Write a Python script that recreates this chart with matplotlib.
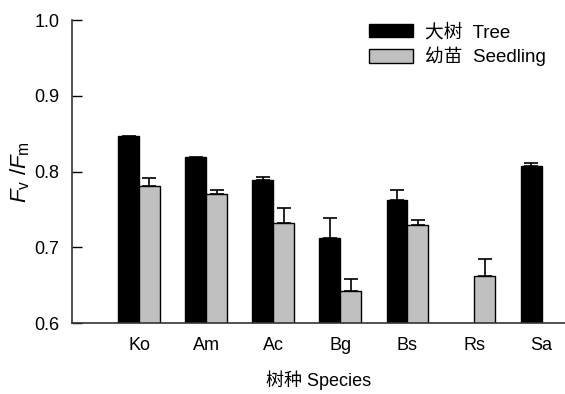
import numpy as np
import matplotlib
matplotlib.use('Agg')
import matplotlib.pyplot as plt

plt.rcParams['font.family'] = ['Liberation Sans', 'Noto Sans CJK SC']
plt.rcParams['mathtext.fontset'] = 'custom'
plt.rcParams['mathtext.rm'] = 'Liberation Sans'
plt.rcParams['mathtext.it'] = 'Liberation Sans:italic'

# Data
species = ['Ko', 'Am', 'Ac', 'Bg', 'Bs', 'Rs', 'Sa']
tree = [0.847, 0.819, 0.789, 0.712, 0.762, np.nan, 0.808]
tree_err = [np.nan, np.nan, 0.004, 0.027, 0.014, np.nan, 0.003]
seedling = [0.781, 0.770, 0.732, 0.642, 0.729, 0.662, np.nan]
seedling_err = [0.011, 0.006, 0.020, 0.016, 0.007, 0.022, np.nan]

x = np.arange(len(species))
w = 0.31

fig = plt.figure(figsize=(5.65, 3.94), dpi=100)
ax = fig.add_axes([0.1274, 0.18, 0.8726, 0.769])

ax.bar(x - w / 2, tree, w, color='black', edgecolor='black', linewidth=1,
       label='大树  Tree')
ax.bar(x + w / 2, seedling, w, color='#c0c0c0', edgecolor='black', linewidth=1,
       label='幼苗  Seedling')

# one-sided (upper) error bars
ax.errorbar(x - w / 2, tree, yerr=[np.zeros(len(x)), tree_err], fmt='none',
            ecolor='black', elinewidth=1.2, capsize=5, capthick=1.2)
ax.errorbar(x + w / 2, seedling, yerr=[np.zeros(len(x)), seedling_err], fmt='none',
            ecolor='black', elinewidth=1.2, capsize=5, capthick=1.2)

ax.set_ylim(0.6, 1.0)
ax.set_xlim(-1.0, 6.35)
ax.set_yticks([0.6, 0.7, 0.8, 0.9, 1.0])
ax.set_yticklabels(['0.6', '0.7', '0.8', '0.9', '1.0'])
ax.set_xticks(x)
ax.set_xticklabels(species)

ax.tick_params(axis='y', direction='in', length=7, width=1, labelsize=13, pad=9)
ax.tick_params(axis='x', length=0, labelsize=13, pad=10)

ax.spines['top'].set_visible(False)
ax.spines['right'].set_visible(False)
ax.spines['left'].set_color('#333333')
ax.spines['bottom'].set_color('#333333')
ax.spines['left'].set_linewidth(1.2)
ax.spines['bottom'].set_linewidth(1.2)

ax.set_ylabel(r'$F_\mathrm{v}$ /$F_\mathrm{m}$', fontsize=16, labelpad=2)
ax.set_xlabel('树种 Species', fontsize=13, labelpad=12)

ax.legend(loc='upper right', bbox_to_anchor=(0.995, 1.045), frameon=False,
          fontsize=13.5, handlelength=2.35, handleheight=0.75, labelspacing=0.3,
          handletextpad=0.65)

fig.savefig('out.png', dpi=100)
